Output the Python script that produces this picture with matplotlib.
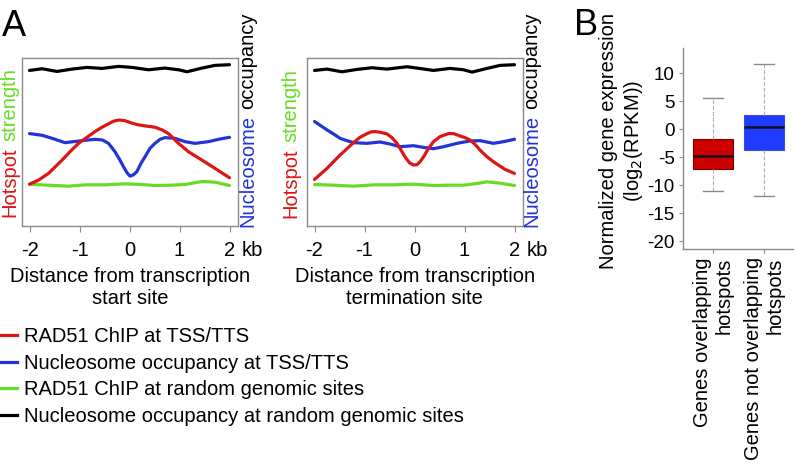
import matplotlib
matplotlib.use("Agg")
import matplotlib.pyplot as plt
from matplotlib.lines import Line2D

plt.rcParams['font.family'] = ['Liberation Sans', 'DejaVu Sans']
plt.rcParams['axes.unicode_minus'] = False

# ---- panel A data (distance in kb, signal in % of plot height) ----
tss_black_x = [-2.0, -1.75, -1.45, -1.15, -0.85, -0.55, -0.22, 0.05, 0.38, 0.71, 0.98, 1.15, 1.45, 1.71, 2.0]
tss_black_y = [92.6, 93.6, 92.0, 93.4, 94.4, 93.8, 95.0, 94.4, 93.0, 94.0, 93.0, 91.8, 94.0, 95.6, 96.0]
tss_red_x = [-2.0, -1.82, -1.62, -1.35, -1.19, -1.02, -0.85, -0.69, -0.55, -0.42, -0.32, -0.21, -0.09, 0.05,
             0.18, 0.31, 0.51, 0.65, 0.78, 0.98, 1.18, 1.45, 1.71, 2.0]
tss_red_y = [24.9, 27.3, 31.3, 39.2, 44.2, 49.2, 52.8, 56.2, 58.8, 60.8, 62.4, 63.1, 62.7, 61.2,
             60.2, 59.6, 58.8, 57.2, 55.0, 49.2, 44.2, 39.2, 34.3, 28.7]
tss_blue_x = [-2.0, -1.75, -1.55, -1.29, -1.12, -0.95, -0.69, -0.54, -0.42, -0.29, -0.19, -0.12, -0.05, 0.01,
              0.08, 0.15, 0.23, 0.31, 0.41, 0.51, 0.61, 0.71, 0.91, 1.11, 1.31, 1.58, 1.78, 2.0]
tss_blue_y = [55.0, 54.0, 52.2, 49.6, 50.2, 50.8, 51.6, 51.2, 49.2, 44.2, 39.2, 35.3, 31.7, 29.7,
              30.5, 32.5, 37.3, 41.2, 46.2, 49.2, 51.6, 52.6, 52.2, 50.2, 49.2, 50.2, 51.6, 52.8]
tss_green_x = [-2.0, -1.62, -1.22, -0.89, -0.49, -0.09, 0.25, 0.51, 0.85, 1.11, 1.45, 1.71, 2.0]
tss_green_y = [24.9, 24.3, 23.7, 24.5, 24.5, 25.1, 24.7, 24.1, 24.3, 24.7, 26.5, 26.1, 24.1]

tts_black_x = [-2.0, -1.75, -1.45, -1.15, -0.85, -0.55, -0.15, 0.05, 0.38, 0.71, 0.98, 1.15, 1.45, 1.71, 2.0]
tts_black_y = [92.6, 93.4, 91.8, 93.2, 94.2, 93.4, 94.8, 94.0, 92.6, 93.8, 93.0, 91.6, 93.8, 95.6, 96.0]
tts_red_x = [-2.0, -1.75, -1.49, -1.22, -1.09, -0.95, -0.87, -0.79, -0.69, -0.55, -0.45, -0.35, -0.27, -0.19,
             -0.10, -0.02, 0.05, 0.11, 0.19, 0.28, 0.38, 0.51, 0.68, 0.78, 0.91, 1.01, 1.11, 1.21, 1.31,
             1.45, 1.58, 1.81, 2.0]
tts_red_y = [27.7, 34.3, 42.2, 49.6, 52.8, 55.0, 56.0, 56.2, 55.8, 54.8, 52.6, 49.2, 45.2, 41.2,
             37.6, 36.3, 36.5, 38.2, 41.6, 46.2, 50.2, 53.2, 55.0, 55.0, 53.6, 52.6, 51.2, 48.6, 45.2,
             41.2, 38.2, 33.7, 31.3]
tts_blue_x = [-2.0, -1.75, -1.62, -1.49, -1.35, -1.22, -0.95, -0.69, -0.49, -0.29, -0.02, 0.18, 0.38, 0.58,
              0.85, 1.11, 1.31, 1.58, 1.78, 2.0]
tts_blue_y = [62.2, 57.2, 54.8, 52.2, 50.8, 49.6, 49.2, 50.0, 48.8, 47.2, 47.8, 46.8, 46.0, 47.2,
              49.2, 50.6, 50.8, 49.2, 50.2, 51.6]
tts_green_x = [-2.0, -1.62, -1.22, -0.82, -0.42, -0.02, 0.38, 0.65, 0.98, 1.25, 1.45, 1.71, 2.0]
tts_green_y = [24.7, 24.3, 23.7, 24.5, 24.5, 24.9, 24.1, 24.3, 24.3, 25.3, 26.3, 25.5, 24.1]

kb_ticks = [-2, -1, 0, 1, 2]
kb_labels = ['-2', '-1', '0', '1', '2']

legend_labels = ['RAD51 ChIP at TSS/TTS',
                 'Nucleosome occupancy at TSS/TTS',
                 'RAD51 ChIP at random genomic sites',
                 'Nucleosome occupancy at random genomic sites']

# ---- panel B data (log2 RPKM) ----
groups = ['Genes overlapping\nhotspots', 'Genes not overlapping\nhotspots']
medians = [-4.8, 0.35]
q1 = [-7.2, -3.7]
q3 = [-1.7, 2.5]
whisk_lo = [-11.0, -11.9]
whisk_hi = [5.5, 11.6]
b_ticks = [10, 5, 0, -5, -10, -15, -20]

RED = '#DD1515'
BLUE = '#2233D8'
GREEN = '#66DD22'
GRAY = '#8a8a8a'
FS = 14.5

W, H = 796, 468
fig = plt.figure(figsize=(W / 100, H / 100), dpi=100)


def px_ax(x0, y0, x1, y1):
    return fig.add_axes([x0 / W, 1 - y1 / H, (x1 - x0) / W, (y1 - y0) / H])


def two_color_vlabel(x, yc, words, colors):
    # rotated label made of two differently coloured words
    tmp = fig.text(0, 0, ' '.join(words), fontsize=FS)
    length = tmp.get_window_extent(fig.canvas.get_renderer()).width
    tmp.remove()
    y0 = (H - yc) - length / 2
    fig.text(x / W, y0 / H, words[0], color=colors[0], fontsize=FS, rotation=90,
             ha='center', va='bottom')
    fig.text(x / W, (y0 + length) / H, words[1], color=colors[1], fontsize=FS, rotation=90,
             ha='center', va='top')


panels = [
    (px_ax(22, 58, 237.5, 226), tss_red_x, tss_red_y, tss_blue_x, tss_blue_y, tss_green_x, tss_green_y,
     tss_black_x, tss_black_y, 'Distance from transcription\nstart site'),
    (px_ax(307, 58, 522.5, 226), tts_red_x, tts_red_y, tts_blue_x, tts_blue_y, tts_green_x, tts_green_y,
     tts_black_x, tts_black_y, 'Distance from transcription\ntermination site'),
]

for ax, rx, ry, bx, by, gx, gy, kx, ky, xlab in panels:
    kw = dict(lw=2.3, solid_joinstyle='round', solid_capstyle='round')
    ax.plot(kx, ky, color='black', **kw)
    ax.plot(gx, gy, color=GREEN, **kw)
    ax.plot(bx, by, color=BLUE, **kw)
    ax.plot(rx, ry, color=RED, **kw)
    ax.set_xlim(-2.15, 2.16)
    ax.set_ylim(0, 100)
    ax.set_yticks([])
    ax.set_xticks(kb_ticks)
    ax.set_xticklabels(kb_labels, fontsize=FS)
    ax.tick_params(axis='x', length=4, color=GRAY, pad=7)
    for s in ax.spines.values():
        s.set_color(GRAY)
        s.set_linewidth(1.0)
    ax.annotate('kb', xy=(2, 0), xycoords=('data', 'axes fraction'), xytext=(9, -11),
                textcoords='offset points', fontsize=FS, ha='left', va='top')
    ax.set_xlabel(xlab, fontsize=FS, labelpad=5)

two_color_vlabel(10, 142.5, ['Hotspot', 'strength'], [RED, GREEN])
two_color_vlabel(248, 120, ['Nucleosome', 'occupancy'], [BLUE, 'black'])
two_color_vlabel(291, 143.5, ['Hotspot', 'strength'], [RED, GREEN])
two_color_vlabel(532, 120, ['Nucleosome', 'occupancy'], [BLUE, 'black'])

fig.text(2 / W, 1 - 36 / H, 'A', fontsize=26, ha='left', va='baseline')
fig.text(574 / W, 1 - 35 / H, 'B', fontsize=26, ha='left', va='baseline')

handles = [Line2D([], [], color=c, lw=2.3) for c in [RED, BLUE, GREEN, 'black']]
fig.legend(handles, legend_labels, loc='upper left', bbox_to_anchor=(0.0, 1 - 327 / H),
           frameon=False, fontsize=FS, handlelength=0.85, handletextpad=0.35,
           labelspacing=0.38, borderpad=0, borderaxespad=0)

# ---- panel B ----
axb = px_ax(683, 48, 793, 249)
stats = []
for i in range(len(groups)):
    stats.append(dict(med=medians[i], q1=q1[i], q3=q3[i], whislo=whisk_lo[i], whishi=whisk_hi[i],
                      label=groups[i]))
bp = axb.bxp(stats, positions=[1, 2], widths=0.78, showfliers=False, patch_artist=True,
             boxprops=dict(linewidth=0.8),
             medianprops=dict(color='#111111', linewidth=1.8),
             whiskerprops=dict(color='#b0b0b0', linewidth=0.8, linestyle='--'),
             capprops=dict(color='#8a8a8a', linewidth=1.0),
             capwidths=0.39)
for patch, fc, ec in zip(bp['boxes'], ['#CC0000', '#1F3BFF'], ['#7a0000', '#3a4fd0']):
    patch.set_facecolor(fc)
    patch.set_edgecolor(ec)
axb.set_xlim(0.41, 2.56)
axb.set_ylim(-21.4, 14.5)
axb.set_yticks(b_ticks)
axb.set_yticklabels([str(t) for t in b_ticks], fontsize=13.5)
axb.set_xticks([1, 2])
axb.set_xticklabels(groups, rotation=90, fontsize=FS, ha='center', va='top', multialignment='right')
axb.tick_params(length=3, color=GRAY, pad=3)
for side in ['top', 'right']:
    axb.spines[side].set_visible(False)
for side in ['left', 'bottom']:
    axb.spines[side].set_color(GRAY)
    axb.spines[side].set_linewidth(1.0)
fig.text(622 / W, 1 - 141 / H, 'Normalized gene expression\n(log$_2$(RPKM))', fontsize=FS,
         rotation=90, ha='center', va='center', multialignment='center')

fig.savefig('out.png', dpi=100)
